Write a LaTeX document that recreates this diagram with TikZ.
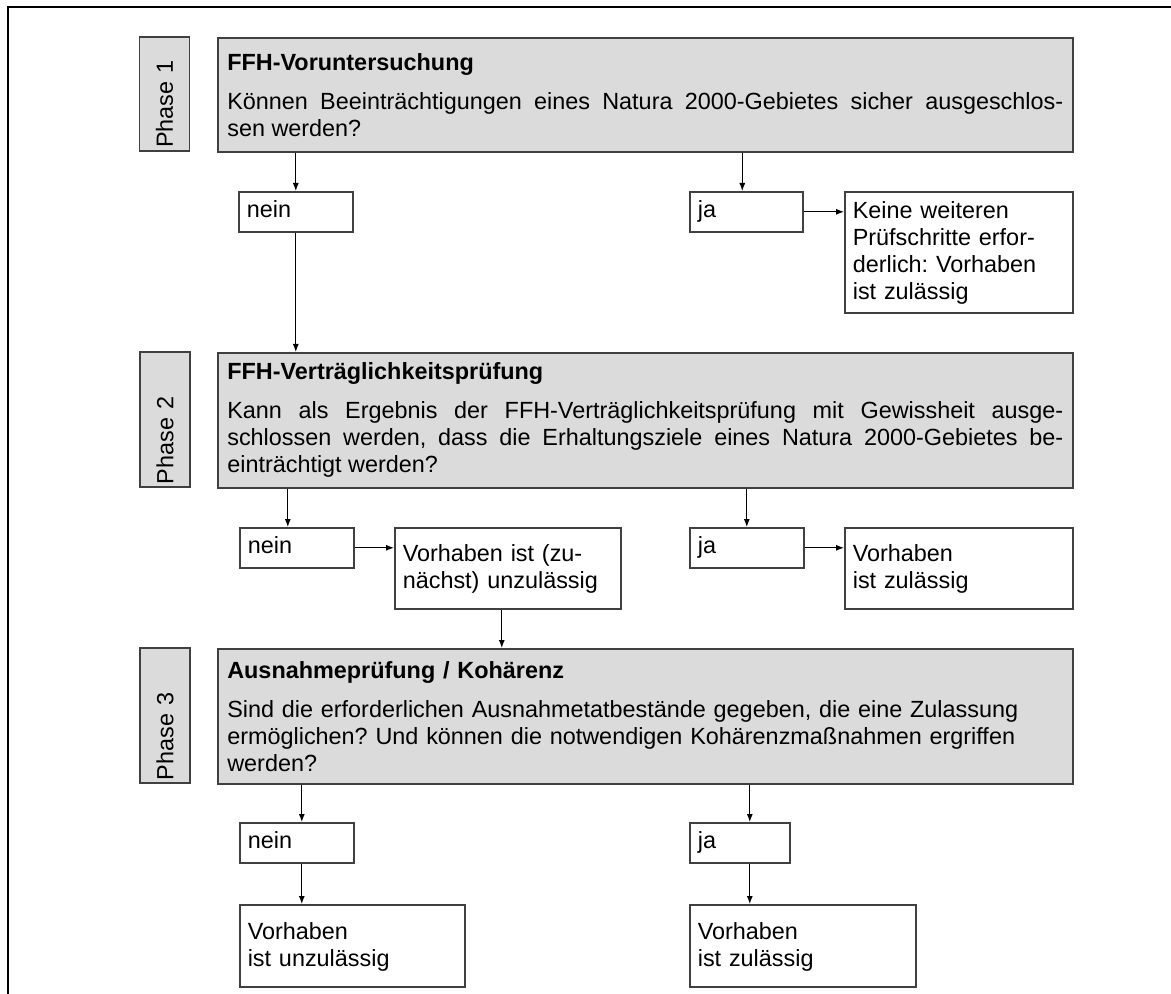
\documentclass[tikz,border=0pt]{standalone}
\usepackage{fontspec}
\setmainfont{Liberation Sans}
\usetikzlibrary{arrows.meta}
\frenchspacing

\tikzset{
  every node/.style={font=\fontsize{11.7}{13.5}\selectfont},
  mainbox/.style={draw=linegray, fill=boxgray, line width=0.8pt, anchor=north west,
    text width=418pt, inner xsep=4.75pt, inner ysep=2pt, align=justify},
  phasebox/.style={draw=linegray, fill=boxgray, line width=0.8pt, rotate=90,
    text width=#1, inner xsep=1.5pt, inner ysep=0pt, minimum height=25pt, align=left},
  smallbox/.style={draw=linegray, line width=0.8pt, anchor=north west,
    text width=#1, inner xsep=4pt, inner ysep=2pt, minimum height=20pt, align=left,
    execute at begin node=\strut},
  arr/.style={-{Latex[length=4pt,width=3pt]}, line width=0.5pt}
}

\begin{document}
\begin{tikzpicture}[x=0.5pt,y=-0.5pt]
    \definecolor{boxgray}{gray}{0.86}
    \definecolor{linegray}{gray}{0.25}
    \useasboundingbox (0,0) rectangle (1171,994);
    % frame %
    \draw[line width=0.8pt] (8,994) -- (8,7) -- (1171,7);

    % phase 1 %
    \node[phasebox=54pt] (p1) at (164.5,94) {Phase 1};
    \node[mainbox, minimum height=57pt] (vu) at (217,37)
      {\textbf{FFH-Voruntersuchung}\\[6pt]
       Können Beeinträchtigungen eines Natura 2000-Gebietes sicher ausgeschlos-\linebreak
       sen werden?};
    \node[smallbox=49pt] (nein1) at (238,191) {nein};
    \node[smallbox=48.5pt] (ja1) at (689,191) {ja};
    \node[smallbox=106pt, minimum height=60.5pt] (res1) at (844,191)
      {Keine weiteren\\ Prüfschritte erfor-\\ derlich: Vorhaben\\ ist zulässig};
    \draw[arr] (nein1.north |- vu.south) -- (nein1.north);
    \draw[arr] ([xshift=-2pt]ja1.north |- vu.south) -- ([xshift=-2pt]ja1.north);
    \draw[arr] (ja1.east) -- (ja1.east -| res1.west);

    % phase 2 %
    \node[phasebox=64.5pt] (p2) at (165,419.5) {Phase 2};
    \node[mainbox, minimum height=67.5pt] (vp) at (217,352)
      {\textbf{FFH-Verträglichkeitsprüfung}\\[6pt]
       Kann als Ergebnis der FFH-Verträglichkeitsprüfung mit Gewissheit ausge-\linebreak
       schlossen werden, dass die Erhaltungsziele eines Natura 2000-Gebietes be-\linebreak
       einträchtigt werden?};
    \draw[arr] (nein1.south) -- (nein1.south |- vp.north);
    \node[smallbox=49pt] (nein2) at (239,527) {nein};
    \node[smallbox=105pt, minimum height=40.5pt] (unz) at (394,527)
      {Vorhaben ist (zu-\\ nächst) unzulässig};
    \node[smallbox=49pt] (ja2) at (689,527) {ja};
    \node[smallbox=106pt, minimum height=40.5pt] (res2) at (844,527)
      {Vorhaben\\ ist zulässig};
    \draw[arr] ([xshift=-4.5pt]nein2.north |- vp.south) -- ([xshift=-4.5pt]nein2.north);
    \draw[arr] (ja2.north |- vp.south) -- (ja2.north);
    \draw[arr] (nein2.east) -- (nein2.east -| unz.west);
    \draw[arr] (ja2.east) -- (ja2.east -| res2.west);

    % phase 3 %
    \node[phasebox=64.5pt] (p3) at (165,715.5) {Phase 3};
    \node[mainbox, minimum height=67.5pt, align=left] (ap) at (217,648)
      {\textbf{Ausnahmeprüfung / Kohärenz}\\[6pt]
       Sind die erforderlichen Ausnahmetatbestände gegeben, die eine Zulassung\\
       ermöglichen? Und können die notwendigen Kohärenzmaßnahmen ergriffen\\
       werden?};
    \draw[arr] ([xshift=-3pt]unz.south) -- ([xshift=-3pt]unz.south |- ap.north);
    \node[smallbox=49pt] (nein3) at (239,822) {nein};
    \node[smallbox=42pt] (ja3) at (689,822) {ja};
    \node[smallbox=104.5pt, minimum height=41pt] (res3n) at (239,904)
      {Vorhaben\\ ist unzulässig};
    \node[smallbox=105pt, minimum height=41pt] (res3j) at (689,904)
      {Vorhaben\\ ist zulässig};
    \draw[arr] ([xshift=2.5pt]nein3.north |- ap.south) -- ([xshift=2.5pt]nein3.north);
    \draw[arr] ([xshift=2.5pt]nein3.south) -- ([xshift=2.5pt]nein3.south |- res3n.north);
    \draw[arr] ([xshift=5pt]ja3.north |- ap.south) -- ([xshift=5pt]ja3.north);
    \draw[arr] ([xshift=5pt]ja3.south) -- ([xshift=5pt]ja3.south |- res3j.north);
\end{tikzpicture}
\end{document}
